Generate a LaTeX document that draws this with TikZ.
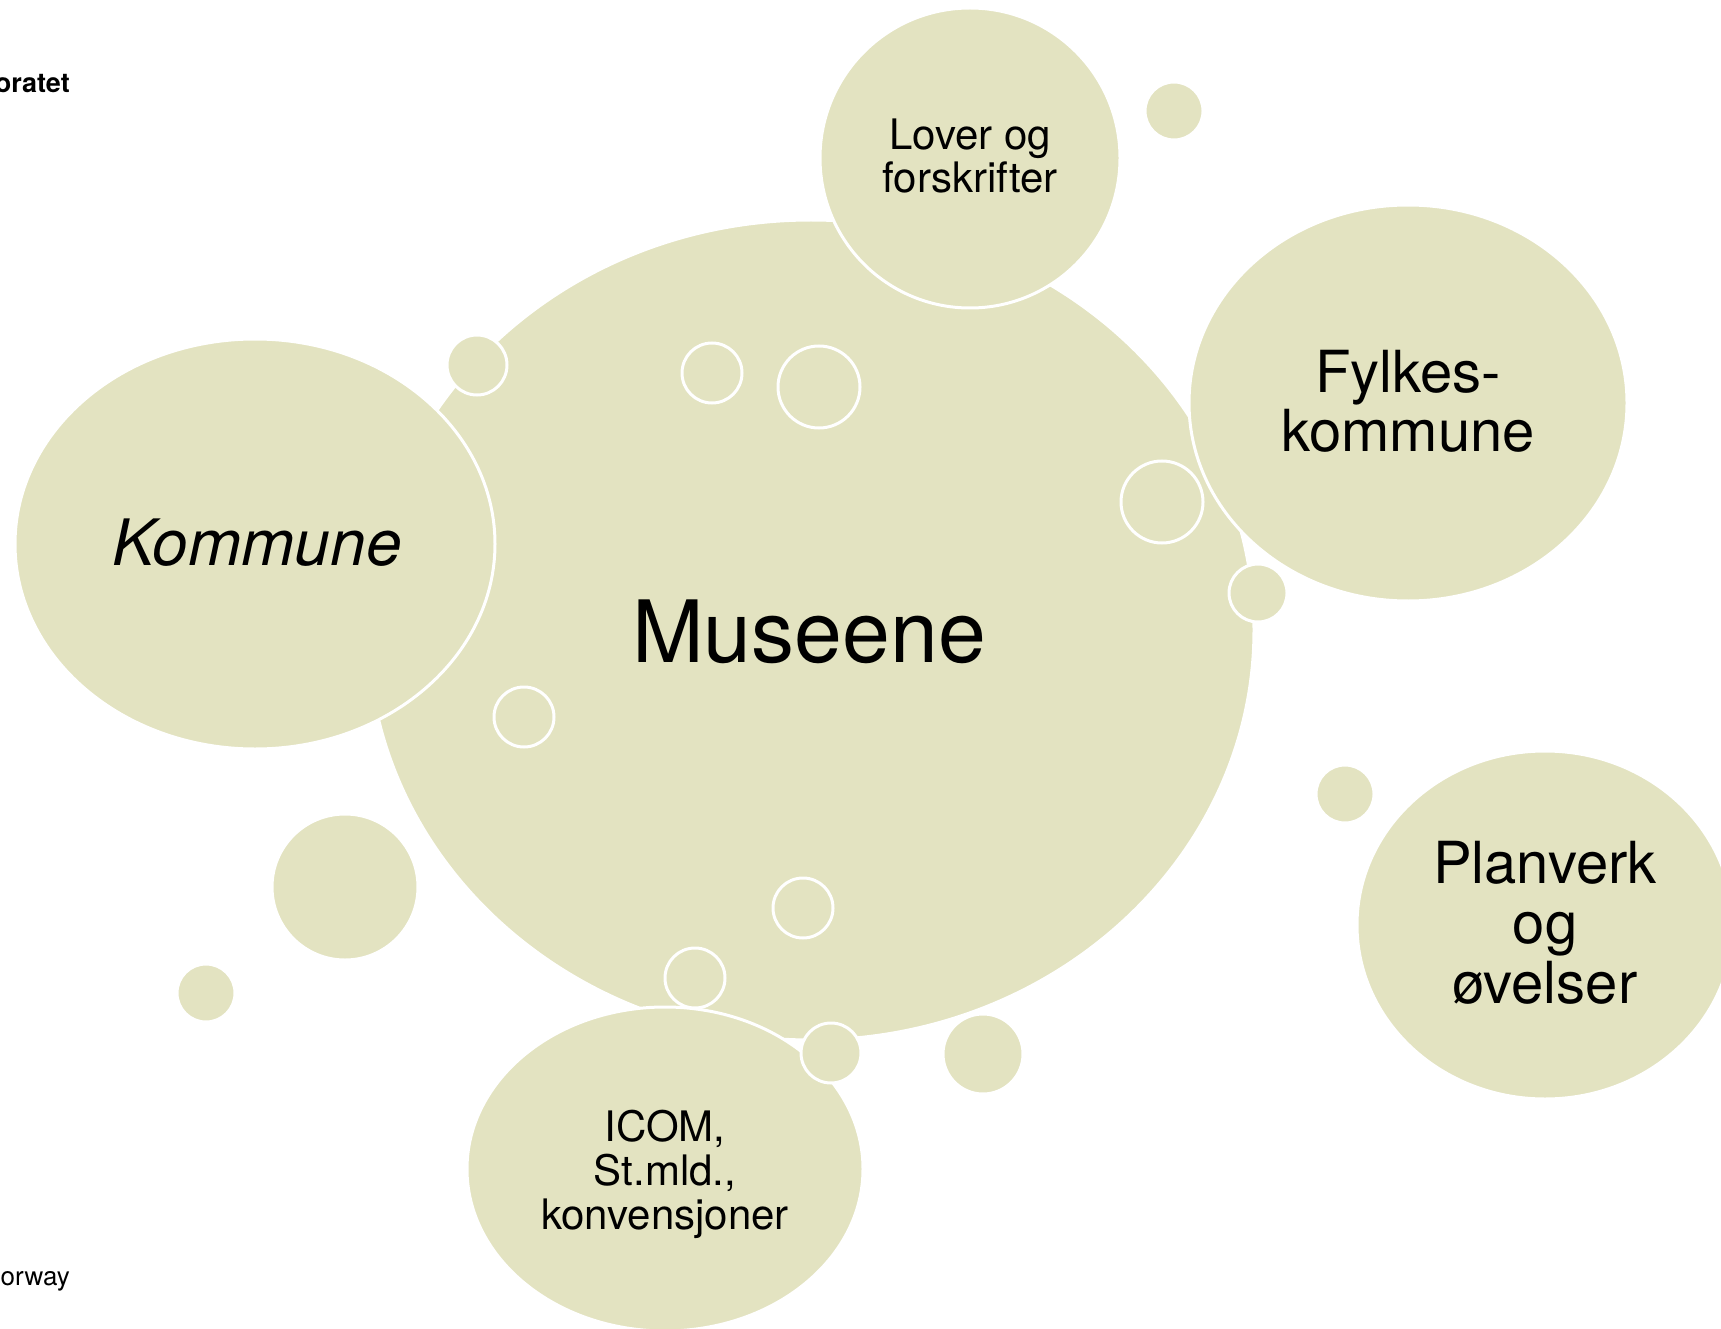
\documentclass[tikz,border=0pt]{standalone}
\usepackage{fontspec}
\setmainfont{TeX Gyre Heros}
\definecolor{bub}{RGB}{227,227,193}
\begin{document}
\begin{tikzpicture}[x=1pt,y=-1pt,
  bubble/.style={fill=bub, draw=white, line width=3pt},
  lbl/.style={inner sep=0pt, align=center, text=black}]
\useasboundingbox (0,0) rectangle (1721,1329);
\clip (0,0) rectangle (1721,1329);
% big bubbles
\path[bubble] (811,630) ellipse [x radius=443pt, y radius=410pt];
\path[bubble] (255,544) ellipse [x radius=240pt, y radius=205pt];
\path[bubble] (970,158) ellipse [x radius=150pt, y radius=150pt];
\path[bubble] (1408,403) ellipse [x radius=219pt, y radius=198pt];
\path[bubble] (665,1169) ellipse [x radius=198pt, y radius=162pt];
\path[bubble] (1545,925) ellipse [x radius=188pt, y radius=174pt];
% small bubbles
\path[bubble] (1174,111) circle [radius=29pt];
\path[bubble] (477,365) circle [radius=30pt];
\path[bubble] (712,373) circle [radius=30pt];
\path[bubble] (819,387) circle [radius=41pt];
\path[bubble] (1162,502) circle [radius=41pt];
\path[bubble] (1258,593) circle [radius=29pt];
\path[bubble] (524,717) circle [radius=30pt];
\path[bubble] (345,887) circle [radius=73pt];
\path[bubble] (206,993) circle [radius=29pt];
\path[bubble] (803,908) circle [radius=30pt];
\path[bubble] (695,978) circle [radius=30pt];
\path[bubble] (831,1053) circle [radius=30pt];
\path[bubble] (983,1054) circle [radius=40pt];
\path[bubble] (1345,794) circle [radius=29pt];
% labels
\node[lbl, anchor=base, font=\fontsize{86}{90}\selectfont] (tmus) at (809,662) {Museene};
\node[lbl, anchor=base, font=\fontsize{64}{70}\selectfont\itshape] (tkom) at (257,565) {Kommune};
\node[lbl, font=\fontsize{58}{59}\selectfont] (tfyl) at (1408,401) {Fylkes-\\kommune};
\node[lbl, font=\fontsize{58}{60}\selectfont] (tpla) at (1545,923) {Planverk\\og\\øvelser};
\node[lbl, font=\fontsize{42}{43}\selectfont] (tlov) at (970,156) {Lover og\\forskrifter};
\node[lbl, font=\fontsize{42}{44}\selectfont] (tico) at (665,1174) {ICOM,\\St.mld.,\\konvensjoner};
\node[lbl, anchor=base east, font=\fontsize{27}{30}\selectfont\bfseries] (tdir) at (70,93) {oratet};
\node[lbl, anchor=base east, font=\fontsize{26}{30}\selectfont] (tnor) at (70,1285) {orway};
\end{tikzpicture}
\end{document}
